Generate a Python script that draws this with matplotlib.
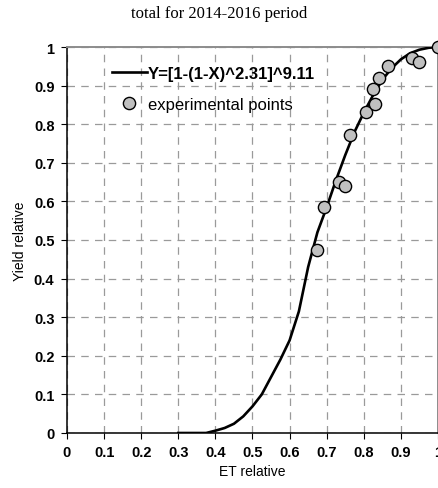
import matplotlib
matplotlib.use('Agg')
import matplotlib.pyplot as plt
from matplotlib.ticker import FuncFormatter

# fitted curve
curve_x = [0.30, 0.375, 0.40, 0.425, 0.45, 0.475, 0.50, 0.525, 0.55, 0.575,
           0.60, 0.625, 0.65, 0.675, 0.70, 0.725, 0.75, 0.775, 0.80, 0.825,
           0.85, 0.875, 0.90, 0.925, 0.95, 0.975, 1.0]
curve_y = [0.0, 0.0, 0.006, 0.013, 0.024, 0.043, 0.069, 0.10, 0.145, 0.19,
           0.24, 0.315, 0.43, 0.52, 0.585, 0.655, 0.72, 0.78, 0.83, 0.875,
           0.915, 0.945, 0.968, 0.984, 0.993, 0.998, 1.0]

# experimental points
exp_x = [0.673, 0.692, 0.732, 0.748, 0.762, 0.805, 0.829, 0.826, 0.840,
         0.864, 0.929, 0.948, 1.0]
exp_y = [0.474, 0.585, 0.650, 0.640, 0.772, 0.832, 0.852, 0.891, 0.920,
         0.951, 0.971, 0.961, 1.0]

ticks = [0, 0.1, 0.2, 0.3, 0.4, 0.5, 0.6, 0.7, 0.8, 0.9, 1]

plt.rcParams['font.family'] = ['Liberation Sans', 'DejaVu Sans']

fig = plt.figure(figsize=(4.39, 4.89), dpi=100)
ax = fig.add_axes([67/439, 1-434/489, 371/439, 386/489])

ax.plot(curve_x, curve_y, color='black', lw=1.9, solid_joinstyle='round',
        label='Y=[1-(1-X)^2.31]^9.11', zorder=3)
ax.plot(exp_x, exp_y, ls='none', marker='o', ms=8.8, mfc='#c0c0c0',
        mec='black', mew=1.0, label='experimental points', zorder=4,
        clip_on=False)

ax.set_xlim(0, 1)
ax.set_ylim(0, 1)
ax.set_xticks(ticks)
ax.set_yticks(ticks)
fmt = FuncFormatter(lambda v, p: '%g' % v)
ax.xaxis.set_major_formatter(fmt)
ax.yaxis.set_major_formatter(fmt)
ax.tick_params(direction='out', length=4, width=0.8, labelsize=10.5,
               pad=5, colors='black')
for lab in ax.get_xticklabels() + ax.get_yticklabels():
    lab.set_fontweight('bold')

ax.grid(True, color='#9a9a9a', ls=(0, (6, 5)), lw=0.9)
ax.set_axisbelow(True)
for s in ['left', 'bottom']:
    ax.spines[s].set_color('black')
    ax.spines[s].set_linewidth(1.1)
for s in ['top', 'right']:
    ax.spines[s].set_color('#8c8c8c')
    ax.spines[s].set_linewidth(1.4)

ax.set_xlabel('ET relative', fontsize=10, labelpad=3)
ax.set_ylabel('Yield relative', fontsize=10, labelpad=5)
fig.text(0.5, 1-14/489, 'total for 2014-2016 period', ha='center', va='center',
         fontsize=12, family='Liberation Serif')

leg = ax.legend(loc='upper left', bbox_to_anchor=(0.08, 0.99), frameon=False,
                fontsize=12, handlelength=2.1, handletextpad=0.05,
                labelspacing=0.95)
leg.get_texts()[0].set_fontweight('bold')

fig.savefig('out.png', dpi=100)
